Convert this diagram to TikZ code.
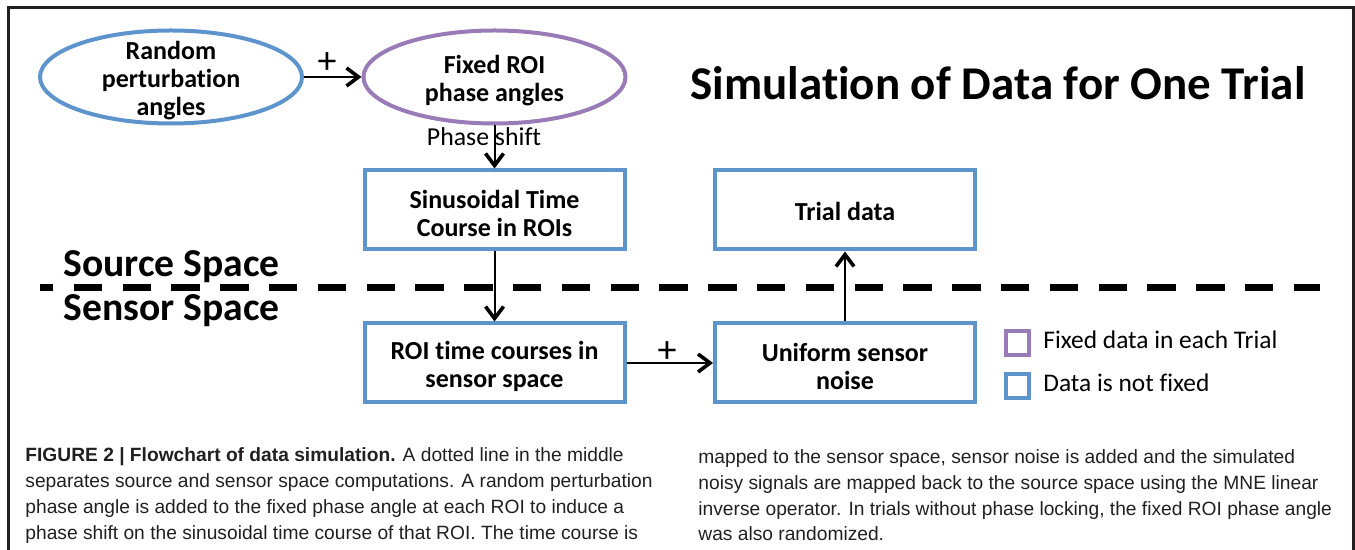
\documentclass[tikz,border=0pt]{standalone}
\usepackage{fontspec}
\setmainfont{Carlito}[Ligatures = NoCommon]
\newfontfamily\captionfont{Liberation Sans}
\usetikzlibrary{arrows.meta, shapes.geometric}

\definecolor{varblue}{RGB}{94,148,204}
\definecolor{fixpurple}{RGB}{152,123,183}
\definecolor{inkgray}{RGB}{35,31,32}

\begin{document}
\begin{tikzpicture}[x = 0.5pt, y = -0.5pt, > = {Straight Barb[length = 6pt, width = 9pt, line width = 1.8pt]}]

	% Definitions

	\def\boxfont{\fontsize{13}{14}\selectfont\bfseries}
	\def\plusfont{\fontsize{19}{19}\selectfont}

	\tikzset{
		oval/.style = {ellipse, draw = varblue, line width = 2pt, minimum width = 131pt, minimum height = 46.5pt, inner sep = 0pt},
		block/.style = {rectangle, draw = varblue, line width = 2pt, minimum width = 130pt, minimum height = 39.5pt, inner sep = 0pt},
		boxtext/.style = {align = center, inner sep = 0pt, font = \boxfont},
		flow/.style = {->, line width = 1pt},
		spacelabel/.style = {inner sep = 0pt, font = \fontsize{19.8}{22}\selectfont\bfseries},
		keybox/.style = {rectangle, line width = 2pt, minimum width = 11.5pt, minimum height = 12pt, inner sep = 0pt},
		keytext/.style = {anchor = west, inner sep = 0pt, font = \fontsize{12.7}{14}\selectfont},
		captiontext/.style = {anchor = west, inner sep = 0pt, align = left, text = inkgray, font = \captionfont\fontsize{9.6}{12.85}\selectfont}
	}

	\useasboundingbox (0, 0) rectangle (1355, 550);

	% Frame

	\draw [inkgray, line width = 1.5pt] (8, 550) -- (8, 8) -- (1353, 8) -- (1353, 550);

	% Phase angles

	\node [oval] (perturb) at (171, 77) {};
	\node [boxtext] (perturb-text) at ([yshift = -2pt] perturb.center) {Random\\perturbation\\angles};
	\node [oval, draw = fixpurple] (fixed) at (494.5, 77) {};
	\node [boxtext] (fixed-text) at ([yshift = -1.8pt] fixed.center) {Fixed ROI\\phase angles};

	\node [font = \fontsize{23.5}{26}\selectfont\bfseries] (title) at (998, 83) {Simulation of Data for One Trial};

	% Time courses

	\node [block] (sinus) at (494.5, 210) {};
	\node [boxtext] (sinus-text) at ([yshift = -1.6pt] sinus.center) {Sinusoidal Time\\Course in ROIs};
	\node [block] (trial) at (845, 210) {};
	\node [boxtext] (trial-text) at ([yshift = -0.5pt] trial.center) {Trial data};
	\node [block] (sensor) at (494.5, 363) {};
	\node [boxtext] (sensor-text) at ([yshift = -1.8pt] sensor.center) {ROI time courses in\\sensor space};
	\node [block] (noise) at (845, 363) {};
	\node [boxtext] (noise-text) at ([yshift = -1.6pt] noise.center) {Uniform sensor\\noise};

	% Source / sensor divide

	\node [spacelabel] (source-label) at (171.5, 267) {Source Space};
	\node [spacelabel] (sensor-label) at (171.5, 311) {Sensor Space};
	\draw [line width = 3.5pt, dash pattern = on 14.15pt off 10.25pt, dash phase = 7.5pt] (40, 288) -- (1320, 288);

	% Connectors

	\draw [flow] (perturb) -- (fixed);
	\node [font = \plusfont] (plus-top) at (327, 63) {+};
	\draw [flow] (fixed) -- (sinus);
	\node [inner sep = 0pt, font = \fontsize{12.9}{14}\selectfont] (shift-label) at (484, 137) {Phase shift};
	\draw [flow] (sinus) -- (sensor);
	\draw [flow] (sensor) -- (noise);
	\node [font = \plusfont] (plus-bottom) at (667, 352) {+};
	\draw [flow] (noise) -- (trial);

	% Key

	\node [keybox, draw = fixpurple] (key-fixed) at (1017.5, 343) {};
	\node [keytext] (key-fixed-text) at (1043, 340) {Fixed data in each Trial};
	\node [keybox, draw = varblue] (key-free) at (1017.5, 386) {};
	\node [keytext] (key-free-text) at (1043, 383) {Data is not fixed};

	% Caption

	\node [captiontext] (caption-left) at (25, 495.5) {\textbf{FIGURE 2 | Flowchart of data simulation.} A dotted line in the middle\\
		separates source and sensor space computations. A random perturbation\\
		phase angle is added to the fixed phase angle at each ROI to induce a\\
		phase shift on the sinusoidal time course of that ROI. The time course is};
	\node [captiontext] (caption-right) at (698, 495.5) {mapped to the sensor space, sensor noise is added and the simulated\\
		noisy signals are mapped back to the source space using the MNE linear\\
		inverse operator. In trials without phase locking, the fixed ROI phase angle\\
		was also randomized.};

\end{tikzpicture}
\end{document}
